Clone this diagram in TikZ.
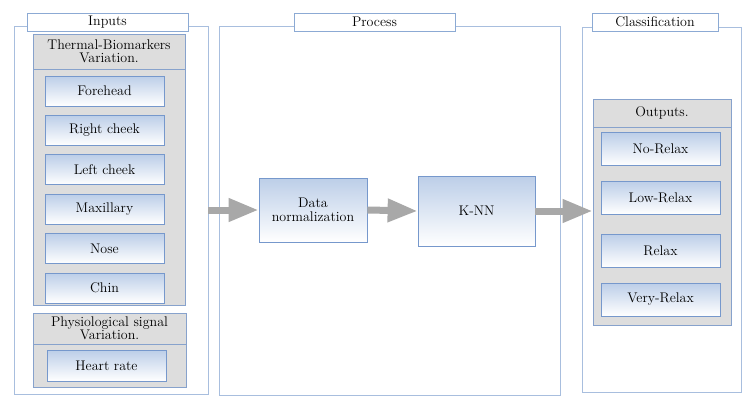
\documentclass[tikz,border=0pt]{standalone}
\usetikzlibrary{arrows.meta}
\definecolor{framecol}{RGB}{168,190,222}
\definecolor{titlecol}{RGB}{140,170,212}
\definecolor{groupfill}{RGB}{221,221,221}
\definecolor{groupdraw}{RGB}{135,162,204}
\definecolor{itemtop}{RGB}{188,206,232}
\definecolor{itemdraw}{RGB}{118,152,204}
\definecolor{arrowcol}{RGB}{168,168,168}
\tikzset{
  frame/.style={draw=framecol, line width=0.8pt, inner sep=0pt},
  titlebox/.style={draw=titlecol, fill=white, line width=0.8pt, minimum height=18pt, inner sep=0pt, font=\fontsize{14}{14}\selectfont},
  groupbox/.style={draw=groupdraw, fill=groupfill, line width=0.8pt, inner sep=0pt, align=center, font=\fontsize{14}{13}\selectfont},
  item/.style={draw=itemdraw, top color=itemtop, bottom color=white, line width=0.8pt, minimum width=119pt, inner sep=0pt, align=center, font=\fontsize{14}{14}\selectfont},
  flow/.style={draw=arrowcol, line width=7pt, -{Triangle[length=30pt,width=22pt]}}
}
\begin{document}
\begin{tikzpicture}[x=1pt, y=-1pt]
    \useasboundingbox (0,0) rectangle (754,407);
    % frames
    \node[frame, minimum width=194pt, minimum height=368pt] (inframe) at (111,210) {};
    \node[frame, minimum width=341pt, minimum height=369pt] (procframe) at (389.5,210.5) {};
    \node[frame, minimum width=159pt, minimum height=365pt] (clsframe) at (661.5,209.5) {};
    \node[titlebox, minimum width=161pt] (intitle) at (107.5,22) {Inputs};
    \node[titlebox, minimum width=161pt] (proctitle) at (374.5,22) {Process};
    \node[titlebox, minimum width=126pt] (clstitle) at (655,22) {Classification};
    % inputs
    \node[groupbox, minimum width=152pt, minimum height=271pt] (thermgrp) at (109,169.5) {};
    \node[groupbox, minimum width=152pt, minimum height=35pt] (thermhead) at (109,51.5) {Thermal-Biomarkers\\Variation.};
    \foreach \name [count=\i from 0] in {Forehead,Right cheek,Left cheek,Maxillary,Nose,Chin}
    \node[item, minimum height=30pt] (therm\i) at (104.5, 91+39.4*\i) {\name};
    \node[groupbox, minimum width=153pt, minimum height=74pt] (physgrp) at (109.5,350) {};
    \node[groupbox, minimum width=153pt, minimum height=31pt] (physhead) at (109.5,328.5) {Physiological signal\\Variation.};
    \node[item, minimum height=31pt] (heart) at (106.5,365.5) {Heart rate};
    % process
    \node[item, minimum width=108pt, minimum height=64pt] (norm) at (313,210) {Data\\normalization};
    \node[item, minimum width=117pt, minimum height=70pt] (knn) at (476.5,211) {K-NN};
    % outputs
    \node[groupbox, minimum width=138pt, minimum height=226pt] (outgrp) at (662,212) {};
    \node[groupbox, minimum width=138pt, minimum height=28pt] (outhead) at (662,113) {Outputs.};
    \foreach \name/\y [count=\i] in {No-Relax/149,Low-Relax/197.5,Relax/250.5,Very-Relax/299.5}
    \node[item, minimum height=33pt] (out\i) at (660.5,\y) {\name};
    % arrows
    \draw[flow] (inframe.east) -- (norm.west);
    \draw[flow] (norm.east) -- (knn.west);
    \draw[flow] (knn.east) -- (knn.east -| outgrp.west);
\end{tikzpicture}
\end{document}
